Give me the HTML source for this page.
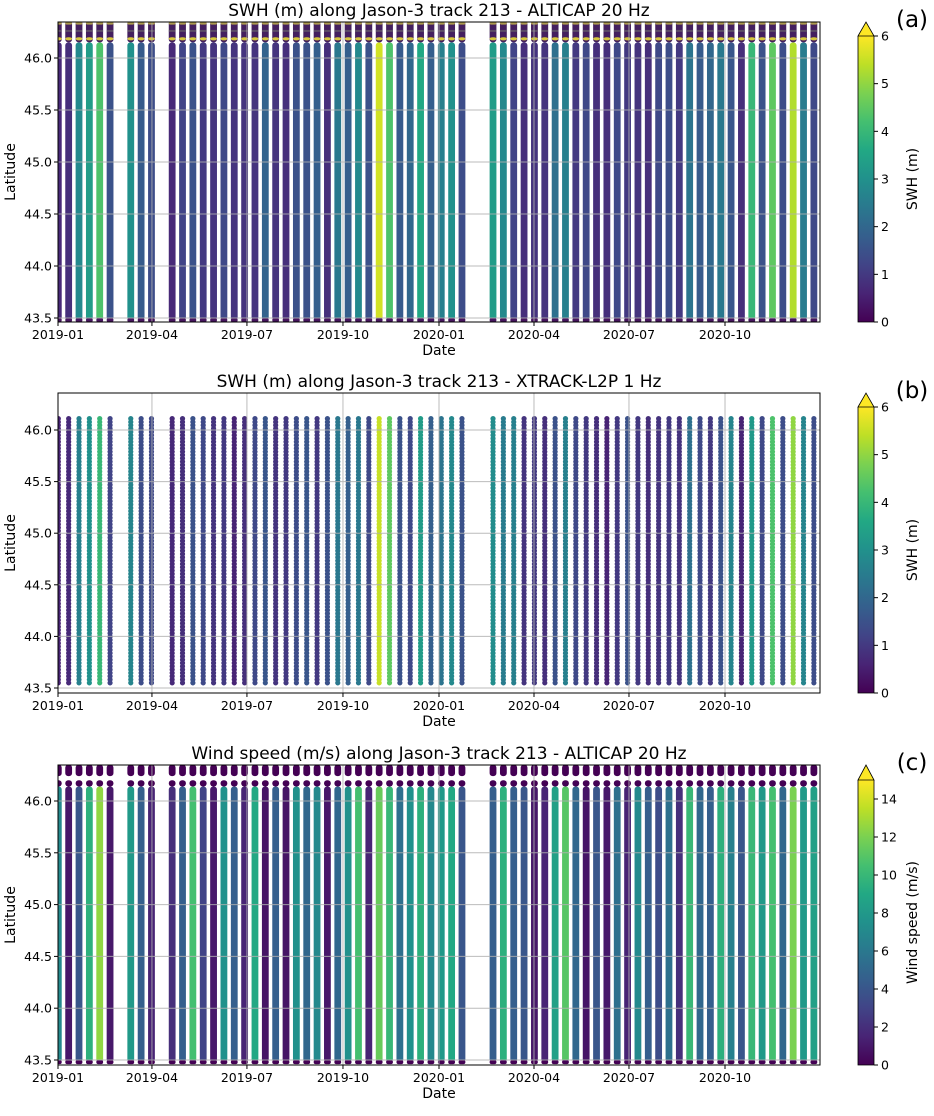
<!DOCTYPE html>
<html><head><meta charset="utf-8">
<style>
body{margin:0;background:#fff;}
svg text{font-family:"DejaVu Sans","Liberation Sans",sans-serif;fill:#000;}
</style></head>
<body>
<svg id="fig" width="934" height="1111" viewBox="0 0 934 1111" xmlns="http://www.w3.org/2000/svg">
<defs>
<linearGradient id="vir" x1="0" y1="1" x2="0" y2="0">
<stop offset="0" stop-color="#440154"/><stop offset="0.1" stop-color="#482475"/><stop offset="0.2" stop-color="#414487"/><stop offset="0.3" stop-color="#355f8d"/><stop offset="0.4" stop-color="#2a788e"/><stop offset="0.5" stop-color="#21918c"/><stop offset="0.6" stop-color="#22a884"/><stop offset="0.7" stop-color="#44bf70"/><stop offset="0.8" stop-color="#7ad151"/><stop offset="0.9" stop-color="#bddf26"/><stop offset="1" stop-color="#fde725"/>
</linearGradient>
</defs>
</svg>
<script>
// ---- data (one value per Jason-3 repeat cycle pass, null = missing) ----
const passIndex = Array.from({length:74},(_,i)=>i);
const swhAlticap = [0.7,0.8,2.8,3.3,4.3,1.5,null,3.0,1.7,1.4,null,0.7,1.2,1.5,1.0,0.9,1.3,0.9,0.9,0.9,1.9,0.9,0.8,1.5,1.5,1.8,0.8,2.4,1.8,2.8,1.5,5.6,4.3,1.7,2.0,3.6,1.8,2.6,3.0,1.4,null,null,3.3,2.8,1.2,0.8,0.9,0.9,2.2,2.6,1.0,1.3,0.8,0.8,1.3,1.0,0.9,0.8,1.3,1.4,1.0,2.3,1.7,2.0,2.4,1.6,0.8,4.0,1.5,4.5,1.4,5.3,2.5,1.3];
const swhXtrack = [0.6,0.7,2.6,3.0,4.0,1.2,null,2.7,1.4,1.3,null,0.7,0.8,1.5,1.3,0.9,1.0,0.6,0.8,1.3,1.6,0.9,1.0,1.4,1.6,1.0,1.5,2.4,1.8,2.4,1.3,5.5,4.5,1.5,1.3,3.3,1.8,2.3,2.8,1.5,null,null,2.9,2.5,2.6,0.9,1.0,0.8,1.5,2.6,1.3,1.0,0.8,0.6,1.0,1.5,1.0,0.8,0.9,1.0,0.9,2.2,1.3,1.0,1.5,2.7,0.6,3.2,1.3,4.3,1.4,5.0,2.7,1.4];
const windAlticap = [7,1.0,4.0,9.5,12.5,1.0,null,8,4.5,1.5,null,2.0,4.5,10.5,3.0,1.0,7.5,4.5,1.5,9.0,0.8,4.5,0.8,7.5,5.0,7.0,1.0,5.0,7.5,10.5,1.5,11.5,10,5.5,7.5,9.5,7,8,9,4,null,null,4.5,9.5,4.5,4.0,1.0,1.5,8.5,11,5,0.8,4.0,1.0,5.5,1.5,7,4.5,3.5,5.5,2.0,10,5,4.5,9.5,6.5,4.0,10,8,10.5,5,12,8,8.5];
const dateTicks = ["2019-01","2019-04","2019-07","2019-10","2020-01","2020-04","2020-07","2020-10"];
const tickDays = [0,90,181,273,365,456,547,639];
const latTicks = [43.5,44.0,44.5,45.0,45.5,46.0];
const swhCbTicks = [0,1,2,3,4,5,6];
const windCbTicks = [0,2,4,6,8,10,12,14];

const NS="http://www.w3.org/2000/svg";
const svg=document.getElementById('fig');
function mk(tag,attrs,parent){const e=document.createElementNS(NS,tag);for(const k in attrs)e.setAttribute(k,attrs[k]);(parent||svg).appendChild(e);return e;}
const stops=["#440154","#482475","#414487","#355f8d","#2a788e","#21918c","#22a884","#44bf70","#7ad151","#bddf26","#fde725"];
function hex(h){return [1,3,5].map(i=>parseInt(h.substr(i,2),16));}
function viridis(t){t=Math.max(0,Math.min(1,t));const p=t*10,i=Math.min(9,Math.floor(p)),f=p-i;const a=hex(stops[i]),b=hex(stops[i+1]);return 'rgb('+a.map((v,j)=>Math.round(v+(b[j]-v)*f)).join(',')+')';}
const X0=58,X1=820,DAYS=730;
function xDay(d){return X0+d*(X1-X0)/DAYS;}
const CYCLE=9.9156, T0=0.3;

function panel(opts){
  const {top,bot,y46,y435,title,values,vmax,mode,cbLabel,cbTicks,letter,id}=opts;
  const yLat=l=>y46+(46-l)*(y435-y46)/2.5;
  const g=mk('g',{});
  
  
  const cp=mk('clipPath',{id:'clip'+id},g);
  mk('rect',{x:X0,y:top,width:X1-X0,height:bot-top},cp);
  const data=mk('g',{'clip-path':'url(#clip'+id+')'},g);
  
  
  passIndex.forEach(k=>{
    const v=values[k]; if(v===null||v===undefined) return;
    const cx=xDay(T0+k*CYCLE);
    const col=viridis(v/vmax);
    const s=mk('g',{},data);
    
    
    if(mode==='dots'){
      for(let l=43.55;l<=46.135;l+=0.032){mk('circle',{cx:cx,cy:yLat(l),r:2.6,fill:col},s);}
    } else if(mode==='swh'){
      mk('rect',{x:cx-3.4,y:yLat(46.15),width:6.8,height:yLat(43.48)-yLat(46.15),fill:col,rx:3},s);
      mk('rect',{x:cx-3.4,y:yLat(46.36),width:6.8,height:yLat(46.15)-yLat(46.36),fill:'#44205f',rx:3},s);
      mk('rect',{x:cx-3.4,y:yLat(46.2),width:6.8,height:yLat(46.17)-yLat(46.2),fill:'#e6d83a',rx:3,opacity:0.9},s);
      mk('rect',{x:cx-3.4,y:yLat(46.35),width:6.8,height:3,fill:'#d8cf48',opacity:0.7,rx:1.5},s);
      mk('rect',{x:cx-3.4,y:yLat(46.27),width:6.8,height:2,fill:'#6b6a6a',opacity:0.6},s);
      mk('rect',{x:cx-3.4,y:yLat(43.5),width:6.8,height:yLat(43.46)-yLat(43.5),fill:'#46155e',rx:2},s);
    } else {
      mk('rect',{x:cx-3.4,y:yLat(46.14),width:6.8,height:yLat(43.48)-yLat(46.14),fill:col,rx:3},s);
      mk('rect',{x:cx-3.4,y:yLat(46.2),width:6.8,height:yLat(46.14)-yLat(46.2),fill:'#440154',rx:3},s);
      mk('rect',{x:cx-3.4,y:yLat(46.35),width:6.8,height:yLat(46.24)-yLat(46.35),fill:'#440154',rx:3},s);
      mk('rect',{x:cx-3.4,y:yLat(43.5),width:6.8,height:yLat(43.46)-yLat(43.5),fill:'#440154',rx:2},s);
    }
  });
  const grid=mk('g',{stroke:'#b0b0b0','stroke-width':1,opacity:0.85},g);
  
  
  latTicks.forEach(l=>mk('line',{x1:X0,x2:X1,y1:yLat(l),y2:yLat(l)},grid));
  tickDays.forEach(d=>mk('line',{x1:xDay(d),x2:xDay(d),y1:top,y2:bot},grid));
  const fr=mk('rect',{x:X0,y:top,width:X1-X0,height:bot-top,fill:'none',stroke:'#000','stroke-width':1},g);
  
  
  latTicks.forEach(l=>{const y=yLat(l);mk('line',{x1:X0-4,x2:X0,y1:y,y2:y,stroke:'#000'},g);
    const t=mk('text',{x:X0-6,y:y+4.5,'text-anchor':'end','font-size':12.5},g);t.textContent=l.toFixed(1);
    
    });
  tickDays.forEach((d,i)=>{const x=xDay(d);mk('line',{x1:x,x2:x,y1:bot,y2:bot+4,stroke:'#000'},g);
    const t=mk('text',{x:x,y:bot+17,'text-anchor':'middle','font-size':12.5},g);t.textContent=dateTicks[i];
    
    });
  let t=mk('text',{x:(X0+X1)/2,y:bot+33,'text-anchor':'middle','font-size':14},g);t.textContent='Date';
  
  
  const my=(top+bot)/2;
  t=mk('text',{x:0,y:0,'text-anchor':'middle','font-size':14,transform:'translate(15,'+my+') rotate(-90)'},g);t.textContent='Latitude';
  
  
  t=mk('text',{x:(X0+X1)/2,y:top-6,'text-anchor':'middle','font-size':17},g);t.textContent=title;
  
  
  const cb=mk('g',{},g);
  
  
  const cbTop=opts.cbTop, cbx=858, cbw=16;
  mk('rect',{x:cbx,y:cbTop,width:cbw,height:bot-cbTop,fill:'url(#vir)'},cb);
  mk('polygon',{points:`${cbx},${cbTop} ${cbx+cbw/2},${top} ${cbx+cbw},${cbTop}`,fill:'#fde725',stroke:'#000','stroke-width':0.8},cb);
  mk('polyline',{points:`${cbx},${cbTop} ${cbx},${bot} ${cbx+cbw},${bot} ${cbx+cbw},${cbTop}`,fill:'none',stroke:'#000','stroke-width':0.8},cb);
  cbTicks.forEach(v=>{const y=bot-(bot-cbTop)*v/vmax;mk('line',{x1:cbx+cbw,x2:cbx+cbw+4,y1:y,y2:y,stroke:'#000'},cb);
    const tt=mk('text',{x:cbx+cbw+7,y:y+4.5,'font-size':12.5},cb);tt.textContent=v;
    
    });
  t=mk('text',{x:0,y:0,'text-anchor':'middle','font-size':14,transform:'translate(917,'+((cbTop+bot)/2)+') rotate(-90)'},cb);t.textContent=cbLabel;
  
  
  t=mk('text',{x:912,y:top+5,'text-anchor':'middle','font-size':23},g);t.textContent=letter;
  
  
}
panel({id:'a',top:22,bot:322,y46:58,y435:318,title:'SWH (m) along Jason-3 track 213 - ALTICAP 20 Hz',values:swhAlticap,vmax:6,mode:'swh',cbLabel:'SWH (m)',cbTicks:swhCbTicks,letter:'(a)',cbTop:36});
panel({id:'b',top:393,bot:693,y46:430,y435:688,title:'SWH (m) along Jason-3 track 213 - XTRACK-L2P 1 Hz',values:swhXtrack,vmax:6,mode:'dots',cbLabel:'SWH (m)',cbTicks:swhCbTicks,letter:'(b)',cbTop:407});
panel({id:'c',top:765,bot:1065,y46:801,y435:1060,title:'Wind speed (m/s) along Jason-3 track 213 - ALTICAP 20 Hz',values:windAlticap,vmax:15,mode:'wind',cbLabel:'Wind speed (m/s)',cbTicks:windCbTicks,letter:'(c)',cbTop:780});
</script>
</body></html>
